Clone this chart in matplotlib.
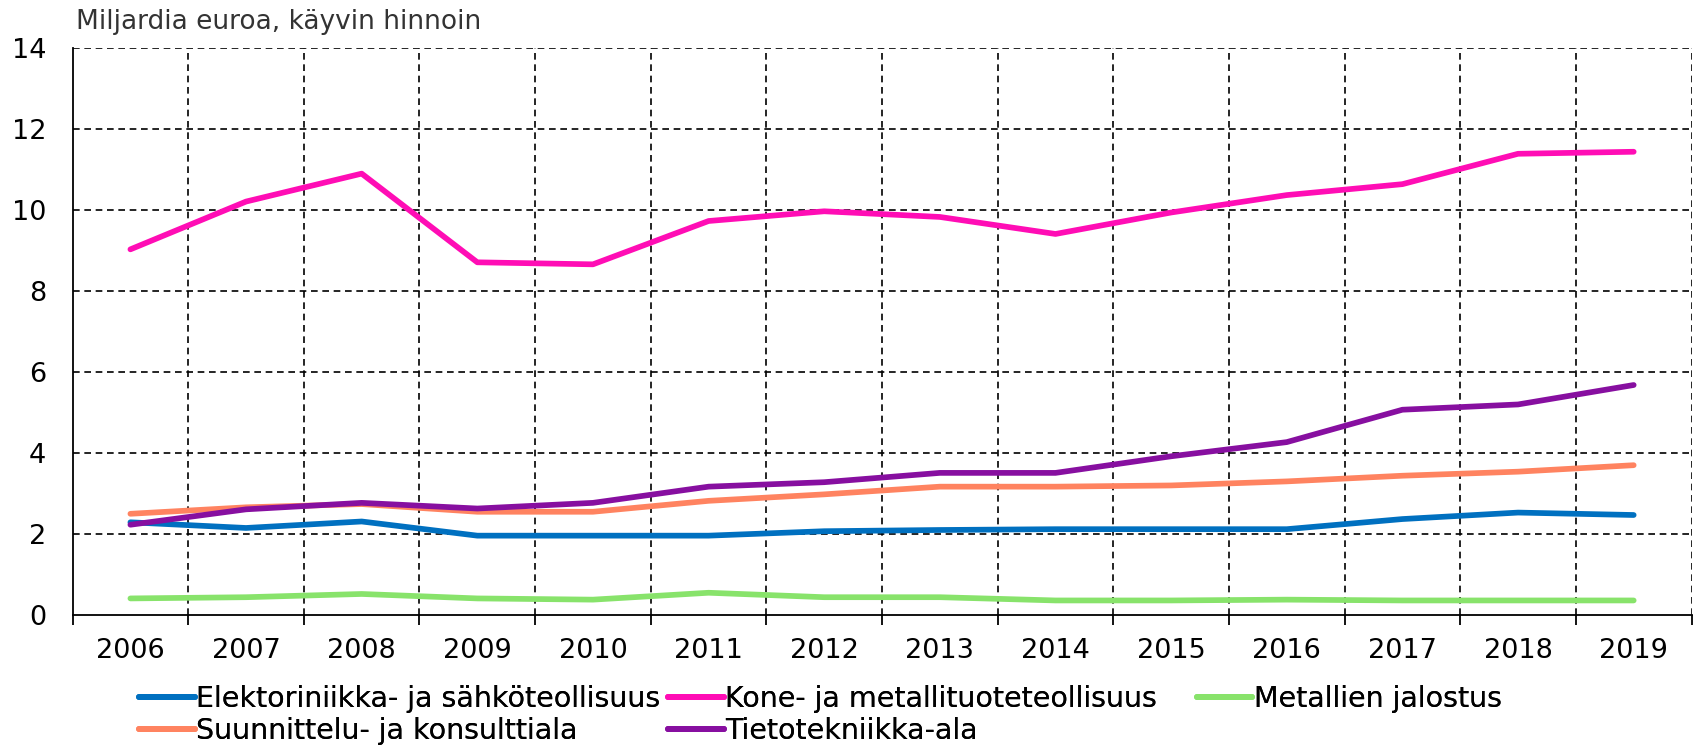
import matplotlib

matplotlib.use("Agg")

import matplotlib.pyplot as plt
from matplotlib.lines import Line2D
import numpy as np

plt.rcParams["font.family"] = ["DejaVu Sans"]

YEARS = [str(y) for y in range(2006, 2020)]

ELEKTRO = [2.28, 2.14, 2.30, 1.95, 1.95, 1.95, 2.06, 2.09, 2.11, 2.11, 2.11, 2.36, 2.52, 2.46]
KONE = [9.02, 10.20, 10.89, 8.70, 8.65, 9.72, 9.96, 9.82, 9.40, 9.93, 10.36, 10.63, 11.38, 11.43]
METALLI = [0.40, 0.43, 0.51, 0.40, 0.37, 0.54, 0.43, 0.43, 0.35, 0.35, 0.37, 0.35, 0.35, 0.35]
SUUNNITTELU = [2.49, 2.65, 2.73, 2.54, 2.54, 2.81, 2.97, 3.16, 3.16, 3.19, 3.29, 3.43, 3.53, 3.69]
TIETO = [2.22, 2.60, 2.76, 2.62, 2.76, 3.16, 3.27, 3.50, 3.50, 3.91, 4.26, 5.06, 5.19, 5.67]

SERIES = [
    ("Elektoriniikka- ja sähköteollisuus", ELEKTRO, "#0070c0"),
    ("Kone- ja metallituoteteollisuus", KONE, "#ff0db5"),
    ("Metallien jalostus", METALLI, "#88e36b"),
    ("Suunnittelu- ja konsulttiala", SUUNNITTELU, "#ff8360"),
    ("Tietotekniikka-ala", TIETO, "#870fa0"),
]

fig = plt.figure(figsize=(17.0, 7.45), dpi=100)
ax = fig.add_axes([0.0427, 0.175, 0.9523, 0.761])

x = np.arange(len(YEARS))
handles = {}
for label, values, color in SERIES:
    ax.plot(x, values, color=color, linewidth=4.1, solid_capstyle="round", zorder=3)
    handles[label] = Line2D([], [], color=color, linewidth=4.3, solid_capstyle="round")

ax.set_xlim(-0.5, len(YEARS) - 0.5)
ax.set_ylim(0, 14)
ax.set_yticks(np.arange(0, 15, 2))
ax.set_xticks(x)
ax.set_xticklabels(YEARS)
ax.set_xticks(np.arange(-0.5, len(YEARS), 1), minor=True)

dash = (0, (4, 2.8))
for yv in np.arange(2, 15, 2):
    ax.axhline(yv, color="black", linewidth=1.2, linestyle=dash, zorder=1)
for xv in np.arange(0.5, len(YEARS), 1):
    ax.axvline(xv, color="black", linewidth=1.2, linestyle=dash, zorder=1)

for side in ("top", "right"):
    ax.spines[side].set_visible(False)
ax.spines["left"].set_linewidth(1.3)
ax.spines["bottom"].set_linewidth(1.3)

ax.tick_params(axis="x", which="major", length=0, pad=17, labelsize=19.5)
ax.tick_params(axis="x", which="minor", length=7, width=1.3, direction="out")
ax.tick_params(axis="y", length=0, pad=19, labelsize=19.5)

fig.text(0.0447, 0.971, "Miljardia euroa, käyvin hinnoin", fontsize=19, color="#333333",
         ha="left", va="center")

# three single-column legends so columns sit evenly like the original
columns = [
    (0.0818, ["Elektoriniikka- ja sähköteollisuus", "Suunnittelu- ja konsulttiala"]),
    (0.393, ["Kone- ja metallituoteteollisuus", "Tietotekniikka-ala"]),
    (0.704, ["Metallien jalostus"]),
]
for xpos, labels in columns:
    leg = fig.legend(
        handles=[handles[lab] for lab in labels],
        labels=labels,
        loc="upper left",
        bbox_to_anchor=(xpos, 0.081),
        frameon=False,
        fontsize=20.5,
        handlelength=1.95,
        handletextpad=0.05,
        labelspacing=0.15,
        borderpad=0,
        borderaxespad=0,
    )
    fig.add_artist(leg)

fig.savefig("out.png", dpi=100)
plt.close(fig)
